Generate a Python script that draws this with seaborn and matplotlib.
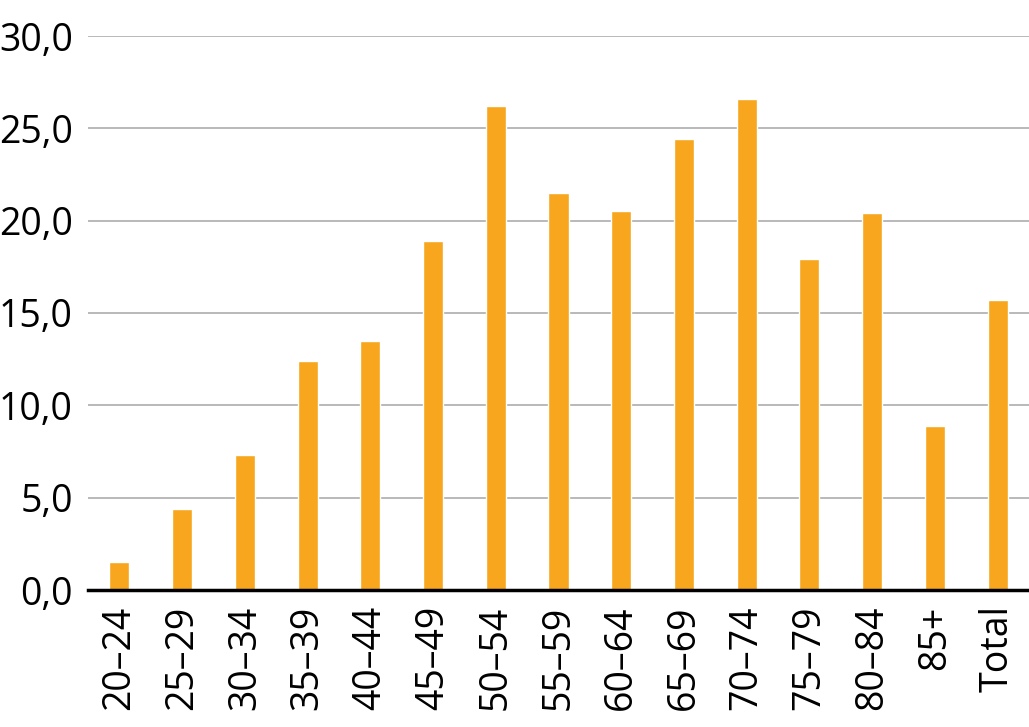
import seaborn as sns
import matplotlib.pyplot as plt
from matplotlib.ticker import FuncFormatter, MultipleLocator
import pandas as pd

sns.set_theme(style="white")
plt.rcParams['font.family'] = ['Open Sans', 'DejaVu Sans']

age_groups = ['20–24', '25–29', '30–34', '35–39', '40–44', '45–49', '50–54', '55–59',
              '60–64', '65–69', '70–74', '75–79', '80–84', '85+', 'Total']
values = [1.5, 4.4, 7.3, 12.4, 13.5, 18.9, 26.2, 21.5, 20.5, 24.4, 26.6, 17.9, 20.4, 8.9, 15.7]

df = pd.DataFrame({'Age': age_groups, 'Value': values})

fig = plt.figure(figsize=(10.29, 7.27), dpi=100)
ax = fig.add_axes([88 / 1029, 1 - 590 / 727, 1 - 88 / 1029, (590 - 36) / 727])

sns.barplot(data=df, x='Age', y='Value', color='#F7A61D', width=0.32,
            saturation=1, ax=ax, zorder=3)

ax.set_xlim(-0.5, len(age_groups) - 0.5)
ax.set_ylim(0, 30)
ax.yaxis.set_major_locator(MultipleLocator(5))
ax.yaxis.set_major_formatter(FuncFormatter(lambda v, p: f"{v:.1f}".replace('.', ',')))
ax.grid(axis='y', color='#b3b3b3', linewidth=1.3, zorder=0)
ax.set_axisbelow(True)

for side in ['top', 'right', 'left']:
    ax.spines[side].set_visible(False)
ax.spines['bottom'].set_color('black')
ax.spines['bottom'].set_linewidth(2.5)
ax.spines['bottom'].set_zorder(4)

ax.set_xlabel('')
ax.set_ylabel('')
ax.tick_params(axis='y', length=0, pad=11, labelsize=27, colors='black')
ax.tick_params(axis='x', length=0, pad=11, labelsize=27, colors='black', rotation=90)

plt.savefig('out.png', dpi=100)
